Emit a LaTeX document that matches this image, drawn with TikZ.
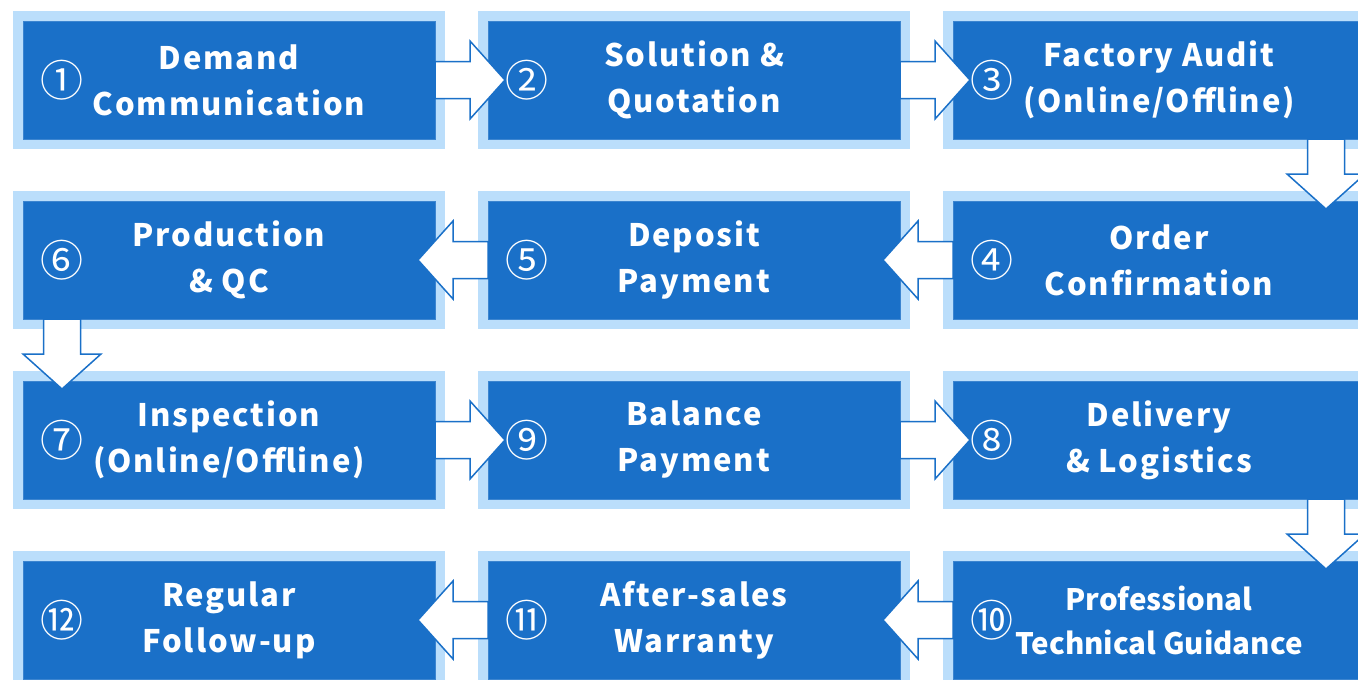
\documentclass[tikz,border=0pt]{standalone}
\usepackage{fontspec}
\usetikzlibrary{calc, positioning}
\newfontfamily\boxfont[LetterSpace=6]{Noto Sans CJK SC}
\newfontfamily\plainfont{Noto Sans CJK SC}
\definecolor{boxBlue}{HTML}{1A70C8}
\definecolor{frameBlue}{HTML}{BBDEFB}
\tikzset{
    flowBox/.style={rectangle, fill=boxBlue, draw=boxBlue!85!white, line width=0.8pt, minimum width=412pt, minimum height=118pt, inner sep=0pt, outer sep=0pt, text=white, align=center, font=\boxfont\bfseries\fontsize{31}{46}\selectfont, preaction={draw=frameBlue, line width=20pt}},
    numMark/.style={text=white, inner sep=0pt, font=\plainfont\fontsize{43}{43}\selectfont},
    flowArrow/.style={draw=boxBlue, fill=white, line width=1.5pt, line join=miter},
}
\newcommand{\flowStep}[5][]{% options, name, position, number, text
    \node[flowBox, #1] (#2) at (#3) {#5};
    \node[numMark] (#2n) at ($(#2.west)+(39,0)$) {#4};
}
\newcommand{\blockArrow}[2]{% start point, direction
    \begin{scope}[shift={(#1)}, rotate=#2]
        \draw[flowArrow] (0,18.5) -- (35,18.5) -- (35,39) -- (70,0) -- (35,-39) -- (35,-18.5) -- (0,-18.5) -- cycle;
    \end{scope}
}

\begin{document}
\begin{tikzpicture}[x=1pt, y=1pt]
    \useasboundingbox (0,0) rectangle (1358,-680);

    % row 1
    \flowStep{s1}{229,-80}{①}{Demand\\Communication}
    \flowStep{s2}{694,-80}{②}{Solution \&\\Quotation}
    \flowStep{s3}{1159,-80}{③}{Factory Audit\\(Online/Offline)}
    % row 2
    \flowStep{s6}{229,-260}{⑥}{Production\\\& QC}
    \flowStep{s5}{694,-260}{⑤}{Deposit\\Payment}
    \flowStep{s4}{1159,-260}{④}{Order\\Confirmation}
    % row 3
    \flowStep{s7}{229,-440}{⑦}{Inspection\\(Online/Offline)}
    \flowStep{s9}{694,-440}{⑨}{Balance\\Payment}
    \flowStep{s8}{1159,-440}{⑧}{Delivery\\\& Logistics}
    % row 4
    \flowStep{s12}{229,-620}{⑫}{Regular\\Follow-up}
    \flowStep{s11}{694,-620}{⑪}{After-sales\\Warranty}
    \flowStep[font=\plainfont\bfseries\fontsize{29.5}{44}\selectfont]{s10}{1159,-620}{⑩}{Professional\\Technical Guidance}

    % arrows
    \blockArrow{s1.east}{0}
    \blockArrow{s2.east}{0}
    \blockArrow{$(s3.south east)+(-39,0)$}{-90}
    \blockArrow{s4.west}{180}
    \blockArrow{s5.west}{180}
    \blockArrow{$(s6.south west)+(39,0)$}{-90}
    \blockArrow{s7.east}{0}
    \blockArrow{s9.east}{0}
    \blockArrow{$(s8.south east)+(-39,0)$}{-90}
    \blockArrow{s10.west}{180}
    \blockArrow{s11.west}{180}

\end{tikzpicture}
\end{document}
